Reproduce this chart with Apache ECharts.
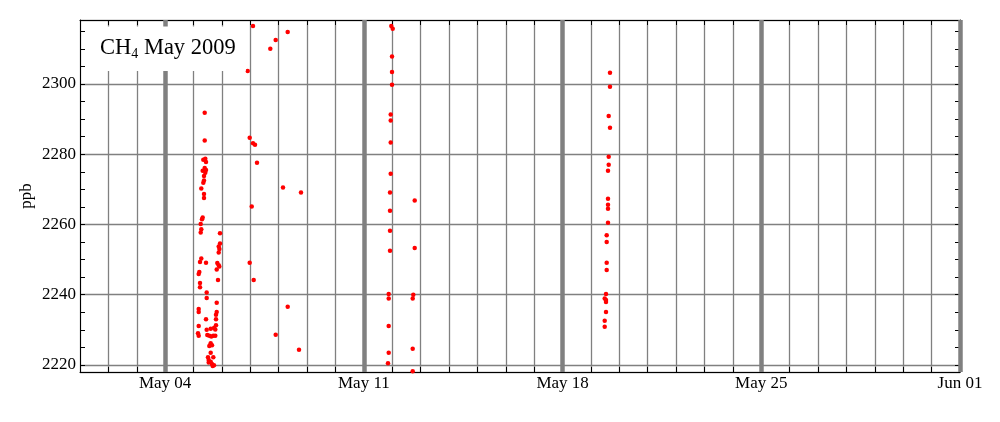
<!DOCTYPE html>
<html>
<head>
<meta charset="utf-8">
<script src="https://cdn.jsdelivr.net/npm/echarts@6/dist/echarts.min.js"></script>
<style>html,body{margin:0;padding:0;background:#fff}#c{width:1000px;height:422px}</style>
</head>
<body>
<div id="c"></div>
<script>
// time = day of May 2009 (fractional), value = CH4 in ppb
const times = [
 5.393,5.393,5.344,5.414,5.439,5.393,5.439,5.322,5.414,5.368,5.368,5.344,5.273,5.368,5.368,
 5.322,5.298,5.252,5.273,5.252,5.932,5.932,5.886,5.910,5.886,5.273,5.227,5.439,5.837,5.886,
 5.907,5.816,5.203,5.181,5.861,5.227,5.227,5.463,5.463,5.816,5.181,5.181,5.816,5.791,5.439,
 5.791,5.181,5.791,5.463,5.604,5.720,5.766,5.157,5.181,5.484,5.555,5.625,5.696,5.766,5.604,
 5.650,5.555,5.604,5.509,5.696,5.534,5.604,5.650,5.720,5.675,5.534,
 7.094,6.908,7.894,7.704,8.317,6.978,7.094,7.165,7.235,8.151,8.785,7.049,6.978,7.119,8.317,7.894,8.715,
 11.966,12.016,11.991,11.991,11.991,11.945,11.945,11.945,11.945,11.921,12.791,11.921,11.921,11.921,
 12.791,11.875,11.875,12.741,12.720,11.875,11.875,12.720,11.850,12.720,
 19.670,19.670,19.625,19.670,19.625,19.625,19.600,19.600,19.600,19.600,19.600,19.554,19.554,19.554,
 19.554,19.530,19.484,19.530,19.530,19.530,19.484,19.484
];
const ch4 = [
 2291.8,2283.9,2278.4,2278.7,2277.8,2276.1,2275.5,2275.3,2274.7,2273.8,2272.5,2271.9,2270.2,2268.7,2267.5,
 2262.0,2261.5,2260.1,2258.6,2257.7,2257.5,2254.6,2253.7,2253.0,2252.0,2250.3,2249.3,2249.1,2249.0,2248.4,
 2248.0,2247.2,2246.5,2245.9,2244.2,2243.3,2242.1,2240.6,2239.1,2237.7,2235.9,2235.1,2235.1,2234.3,2233.0,
 2233.0,2231.1,2231.3,2230.0,2230.3,2230.5,2230.1,2229.0,2228.3,2228.5,2228.3,2228.1,2228.3,2228.3,2226.2,
 2225.6,2225.4,2223.5,2222.2,2222.2,2221.4,2220.9,2220.3,2219.9,2219.7,2220.7,
 2316.5,2303.7,2312.5,2310.0,2314.8,2284.7,2283.1,2282.7,2277.6,2270.5,2269.1,2265.1,2249.1,2244.2,2236.6,2228.6,2224.3,
 2316.5,2315.7,2307.8,2303.4,2299.8,2291.3,2289.6,2283.3,2274.4,2269.1,2266.8,2263.9,2258.2,2252.5,
 2253.3,2240.2,2238.9,2240.0,2238.9,2231.1,2223.5,2224.6,2220.5,2218.2,
 2303.2,2299.2,2290.9,2287.5,2279.3,2277.0,2275.3,2267.3,2265.6,2264.5,2260.5,2256.9,2255.0,2249.1,
 2247.0,2240.2,2238.9,2238.5,2237.9,2235.1,2232.6,2230.9
];
const mondays = [4, 11, 18, 25, 32];
const xLabelDays = [4, 11, 18, 25, 32];
const xLabelTexts = ['May 04', 'May 11', 'May 18', 'May 25', 'Jun 01'];
const yMinorTicks = [2220,2225,2230,2235,2240,2245,2250,2255,2260,2265,2270,2275,2280,2285,2290,2295,2300,2305,2310,2315];
const titleText = '{a|CH}{b|4}{a| May 2009}';

const FONT = 'Liberation Serif';
const points = times.map((t, i) => [t, ch4[i]]);
const yMin = 2218, yMax = 2318.2, xMin = 1, xMax = 32;

const chart = echarts.init(document.getElementById('c'), null, {renderer: 'canvas'});
chart.setOption({
  animation: false,
  backgroundColor: '#fff',
  title: {
    left: 85, top: 25,
    text: titleText,
    backgroundColor: '#fff',
    padding: [10, 10, 10, 15],
    textStyle: {
      fontWeight: 'normal',
      rich: {
        a: {fontFamily: FONT, fontSize: 22.5, fontWeight: 'normal', color: '#000', lineHeight: 26},
        b: {fontFamily: FONT, fontSize: 14, fontWeight: 'normal', color: '#000', lineHeight: 18, verticalAlign: 'bottom'}
      }
    }
  },
  grid: {left: 80, right: 40, top: 20, bottom: 50, containLabel: false},
  xAxis: [{
    type: 'value', min: xMin, max: xMax, interval: 1, position: 'bottom',
    axisLine: {show: true, onZero: false, lineStyle: {color: '#000', width: 1}},
    axisTick: {show: true, inside: true, length: 5, lineStyle: {color: '#000', width: 1}},
    splitLine: {show: true, lineStyle: {color: '#808080', width: 1.3}},
    axisLabel: {
      fontFamily: FONT, fontSize: 17, color: '#000', margin: 3,
      formatter: v => { const k = xLabelDays.indexOf(Math.round(v)); return (k >= 0 && Math.abs(v - xLabelDays[k]) < 1e-6) ? xLabelTexts[k] : ''; }
    }
  }, {
    type: 'value', min: xMin, max: xMax, interval: 1, position: 'top',
    axisLine: {show: true, onZero: false, lineStyle: {color: '#000', width: 1}},
    axisTick: {show: true, inside: true, length: 5, lineStyle: {color: '#000', width: 1}},
    splitLine: {show: false}, axisLabel: {show: false}
  }],
  yAxis: [{
    type: 'value', min: yMin, max: yMax, splitNumber: 5, position: 'left',
    name: 'ppb', nameLocation: 'middle', nameGap: 45, nameRotate: 90, nameMoveOverlap: false,
    nameTextStyle: {fontFamily: FONT, fontSize: 17, color: '#000'},
    axisLine: {show: true, onZero: false, lineStyle: {color: '#000', width: 1}},
    axisTick: {show: false},
    splitLine: {show: true, lineStyle: {color: '#808080', width: 1.3}},
    axisLabel: {fontFamily: FONT, fontSize: 17, color: '#000', margin: 4, showMinLabel: false, showMaxLabel: false,
      formatter: v => String(v)}
  }, {
    type: 'value', min: yMin, max: yMax, position: 'left',
    axisLine: {show: false},
    axisTick: {show: true, inside: true, length: 5, customValues: yMinorTicks, lineStyle: {color: '#000', width: 1}},
    splitLine: {show: false}, axisLabel: {show: false}
  }, {
    type: 'value', min: yMin, max: yMax, position: 'right',
    axisLine: {show: true, onZero: false, lineStyle: {color: '#000', width: 1}},
    axisTick: {show: true, inside: true, length: 5, customValues: yMinorTicks, lineStyle: {color: '#000', width: 1}},
    splitLine: {show: false}, axisLabel: {show: false}
  }],
  series: [{
    type: 'scatter', xAxisIndex: 0, yAxisIndex: 0,
    data: points, symbolSize: 4.5,
    itemStyle: {color: '#ff0000', opacity: 1},
    markLine: {
      silent: true, symbol: ['none', 'none'], label: {show: false},
      lineStyle: {color: '#808080', width: 4.5, type: 'solid'},
      data: mondays.map(d => ({xAxis: d}))
    }
  }]
});
</script>
</body>
</html>
